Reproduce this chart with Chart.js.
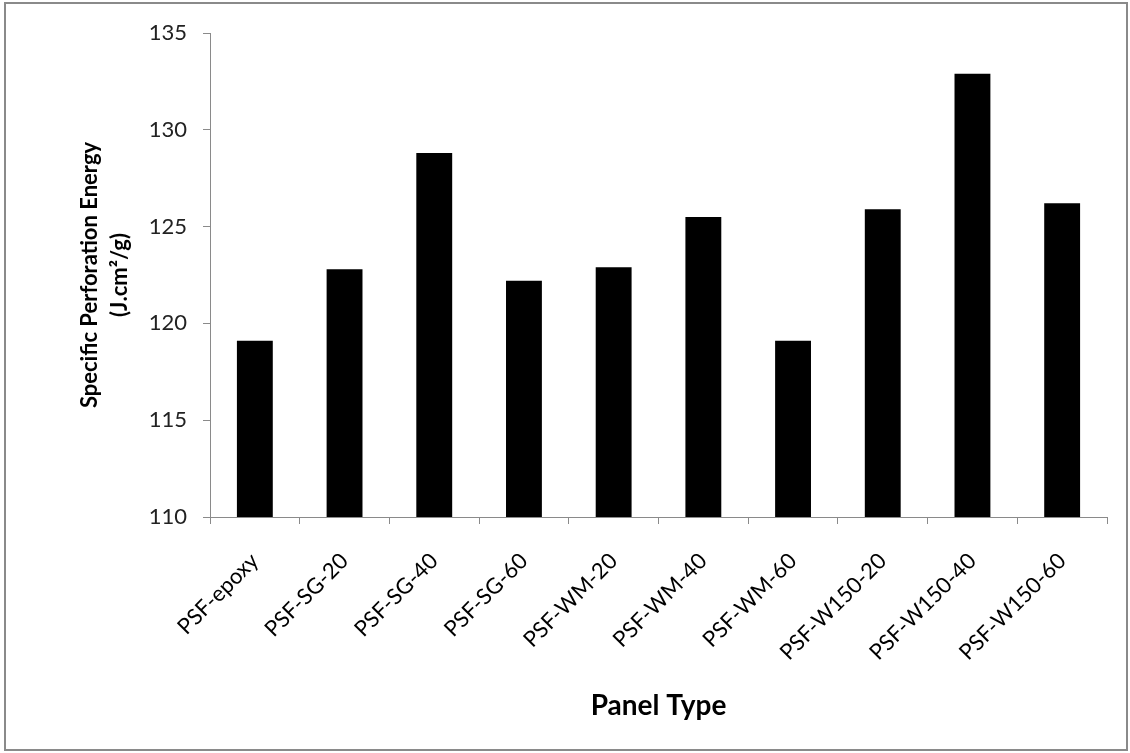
<!DOCTYPE html>
<html>
<head>
<meta charset="utf-8">
<script src="https://cdn.jsdelivr.net/npm/chart.js@4"></script>
<style>
  html, body { margin: 0; padding: 0; background: #fff; }
  #wrap { position: relative; width: 1130px; height: 753px; }
  #frame {
    position: absolute; left: 4px; top: 2px; width: 1120px; height: 745px;
    border: 2px solid #8a8a8a; pointer-events: none;
  }
  canvas { position: absolute; left: 0; top: 0; }
</style>
</head>
<body>
<div id="wrap">
  <canvas id="chart" width="1130" height="753"></canvas>
  <div id="frame"></div>
</div>
<script>
const panelTypes = ['PSF-epoxy', 'PSF-SG-20', 'PSF-SG-40', 'PSF-SG-60', 'PSF-WM-20',
                    'PSF-WM-40', 'PSF-WM-60', 'PSF-W150-20', 'PSF-W150-40', 'PSF-W150-60'];
const energyValues = [119.1, 122.8, 128.8, 122.2, 122.9, 125.5, 119.1, 125.9, 132.9, 126.2];
const yTicks = [110, 115, 120, 125, 130, 135];

const fontFamily = 'Lato, "Open Sans", sans-serif';

const ctx = document.getElementById('chart').getContext('2d');
new Chart(ctx, {
  type: 'bar',
  data: {
    labels: panelTypes,
    datasets: [{
      data: energyValues,
      backgroundColor: '#000',
      borderWidth: 0,
      barPercentage: 0.4,
      categoryPercentage: 1.0
    }]
  },
  options: {
    responsive: false,
    animation: false,
    layout: { padding: { top: 33, right: 23, left: 0, bottom: 0 } },
    plugins: {
      legend: { display: false },
      tooltip: { enabled: false }
    },
    scales: {
      x: {
        offset: true,
        afterFit: (scale) => { scale.height = 236; },
        grid: {
          offset: true,
          drawOnChartArea: false,
          drawTicks: true,
          tickLength: 7,
          color: '#8a8a8a'
        },
        border: { color: '#8a8a8a', width: 1 },
        ticks: {
          minRotation: 45,
          maxRotation: 45,
          padding: 24,
          color: '#000',
          font: { family: fontFamily, size: 22 }
        },
        title: {
          display: true,
          text: 'Panel Type',
          color: '#000',
          padding: { top: 0, bottom: 30 },
          font: { family: fontFamily, size: 28, weight: 'bold' }
        }
      },
      y: {
        min: 110,
        max: 135,
        afterFit: (scale) => { scale.width = 210; },
        afterBuildTicks: (scale) => { scale.ticks = yTicks.map(v => ({ value: v })); },
        grid: {
          drawOnChartArea: false,
          drawTicks: true,
          tickLength: 7,
          color: '#8a8a8a'
        },
        border: { color: '#8a8a8a', width: 1 },
        ticks: {
          padding: 16,
          color: '#222',
          font: { family: fontFamily, size: 22 }
        },
        title: {
          display: true,
          text: ['Specific Perforation Energy', '(J.cm\u00b2/g)'],
          color: '#000',
          padding: { top: 75, bottom: 0 },
          font: { family: fontFamily, size: 22, weight: 'bold', lineHeight: 1.35 }
        }
      }
    }
  }
});
</script>
</body>
</html>
